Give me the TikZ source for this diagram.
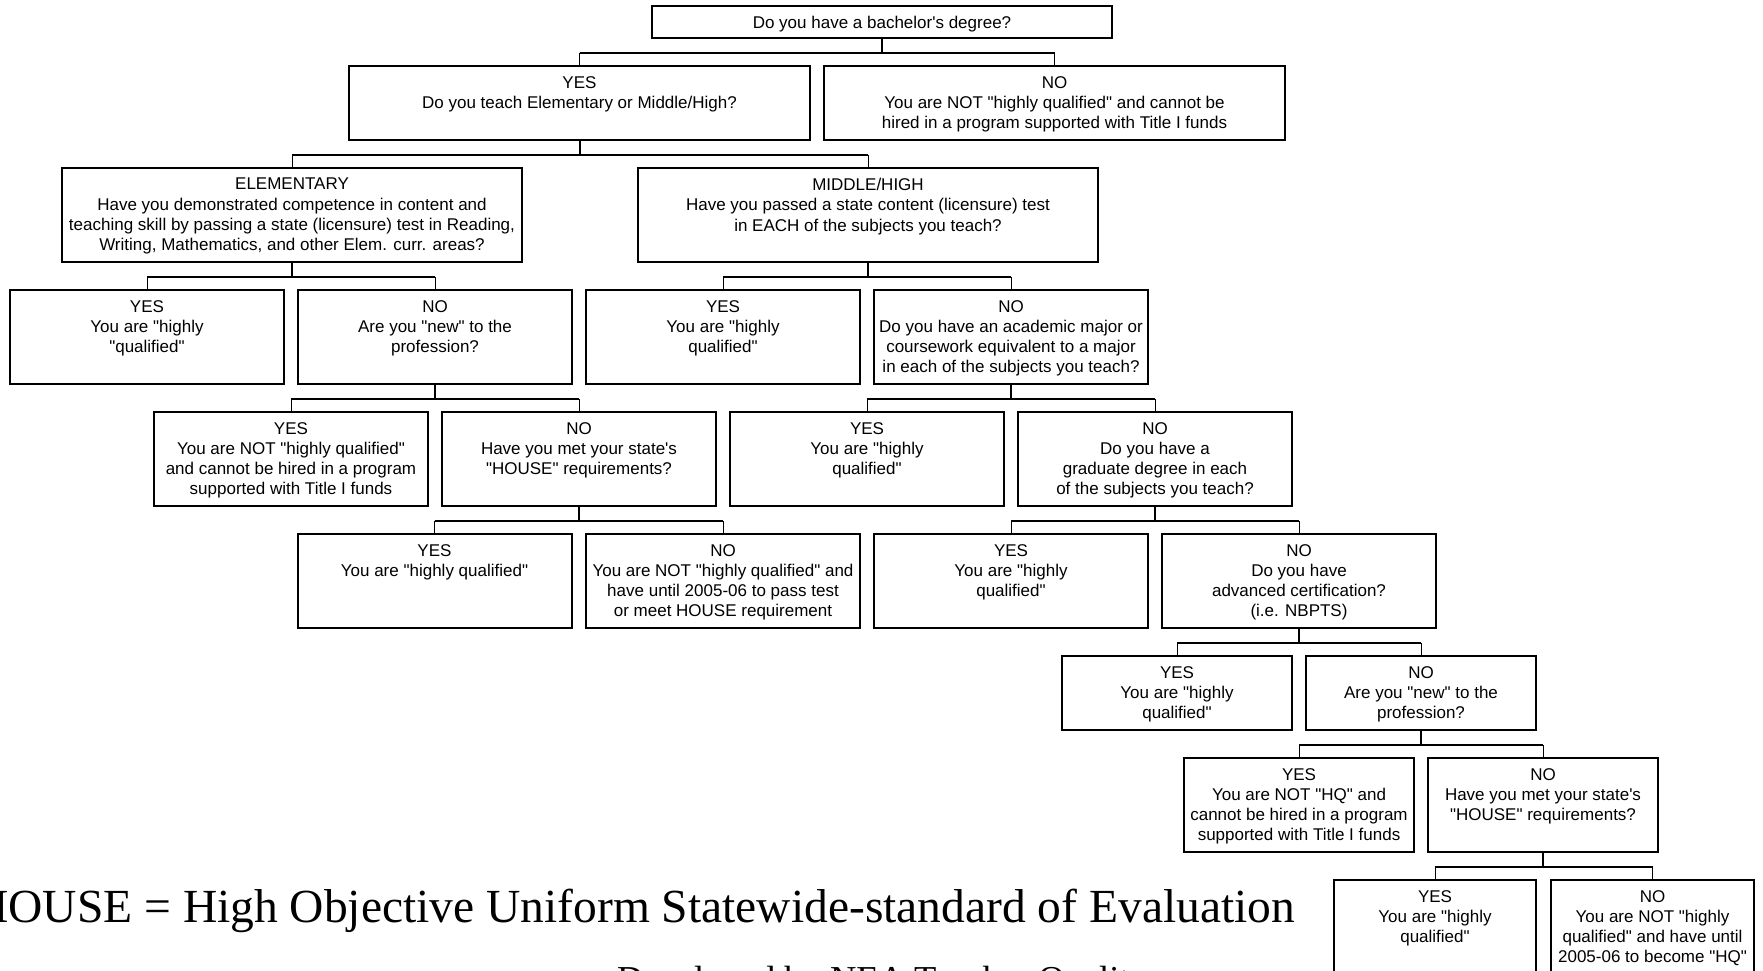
\documentclass[tikz,border=0pt]{standalone}
\usepackage{fontspec}
\setmainfont{Liberation Sans}[Ligatures=TeXOff]
\newfontfamily\notefont{Liberation Serif}
\usetikzlibrary{positioning}

\tikzset{
  qbox/.style={draw=black, line width=2pt, inner sep=0pt},
  wide/.style={qbox, minimum width=460pt},
  mid/.style={qbox, minimum width=274pt, minimum height=94pt},
  narrow/.style={qbox, minimum width=230pt},
  qtext/.style={anchor=north, align=center, inner sep=0pt, font=\fontsize{17}{20.3}\selectfont},
  trunk/.style={line width=2pt},
  twig/.style={line width=1pt},
}

\begin{document}
\begin{tikzpicture}[x=1pt,y=-1pt]
  \useasboundingbox (0,0) rectangle (1763,971);

  % boxes, row by row
  \node[wide, minimum height=32pt] (bach) at (882,22) {};
  \node[wide, minimum height=74pt, minimum width=461pt] (yes1) at (579.5,103) {};
  \node[wide, minimum height=74pt, minimum width=461pt] (no1) at (1054.5,103) {};
  \node[wide, minimum height=94pt] (elem) at (292,215) {};
  \node[wide, minimum height=94pt] (mh) at (868,215) {};
  \node[mid] (eyes) at (147,337) {};
  \node[mid] (eno) at (435,337) {};
  \node[mid] (mhyes) at (723,337) {};
  \node[mid] (mhno) at (1011,337) {};
  \node[mid] (newyes) at (291,459) {};
  \node[mid] (newno) at (579,459) {};
  \node[mid] (majyes) at (867,459) {};
  \node[mid] (majno) at (1155,459) {};
  \node[mid] (hyes) at (434.5,581) {};
  \node[mid] (hno) at (723,581) {};
  \node[mid] (gyes) at (1011,581) {};
  \node[mid] (gno) at (1299,581) {};
  \node[narrow, minimum height=74pt] (ayes) at (1177,693) {};
  \node[narrow, minimum height=74pt] (ano) at (1421,693) {};
  \node[narrow, minimum height=94pt] (nyes) at (1299,805) {};
  \node[narrow, minimum height=94pt] (nno) at (1543,805) {};
  \node[qbox, minimum width=202pt, minimum height=94pt] (fyes) at (1435,927) {};
  \node[qbox, minimum width=203pt, minimum height=94pt] (fno) at (1652.5,927) {};

  % texts
  \node[qtext, below=11pt of bach.north] (bacht) {Do you have a bachelor's degree?};
  \node[qtext, below=11pt of yes1.north] (yes1t) {YES\\Do you teach Elementary or Middle/High?};
  \node[qtext, below=11pt of no1.north] (no1t) {NO\\You are NOT "highly qualified" and cannot be\\hired in a program supported with Title I funds};
  \node[qtext, below=11pt of elem.north] (elemt) {ELEMENTARY\\Have you demonstrated competence in content and\\teaching skill by passing a state (licensure) test in Reading,\\Writing, Mathematics, and other Elem. curr. areas?};
  \node[qtext, below=11pt of mh.north] (mht) {MIDDLE/HIGH\\Have you passed a state content (licensure) test\\in EACH of the subjects you teach?};
  \node[qtext, below=11pt of eyes.north] (eyest) {YES\\You are "highly\\"qualified"};
  \node[qtext, below=11pt of eno.north] (enot) {NO\\Are you "new" to the\\profession?};
  \node[qtext, below=11pt of mhyes.north] (mhyest) {YES\\You are "highly\\qualified"};
  \node[qtext, below=11pt of mhno.north] (mhnot) {NO\\Do you have an academic major or\\coursework equivalent to a major\\in each of the subjects you teach?};
  \node[qtext, below=11pt of newyes.north] (newyest) {YES\\You are NOT "highly qualified"\\and cannot be hired in a program\\supported with Title I funds};
  \node[qtext, below=11pt of newno.north] (newnot) {NO\\Have you met your state's\\"HOUSE" requirements?};
  \node[qtext, below=11pt of majyes.north] (majyest) {YES\\You are "highly\\qualified"};
  \node[qtext, below=11pt of majno.north] (majnot) {NO\\Do you have a\\graduate degree in each\\of the subjects you teach?};
  \node[qtext, below=11pt of hyes.north] (hyest) {YES\\You are "highly qualified"};
  \node[qtext, below=11pt of hno.north] (hnot) {NO\\You are NOT "highly qualified" and\\have until 2005-06 to pass test\\or meet HOUSE requirement};
  \node[qtext, below=11pt of gyes.north] (gyest) {YES\\You are "highly\\qualified"};
  \node[qtext, below=11pt of gno.north] (gnot) {NO\\Do you have\\advanced certification?\\(i.e. NBPTS)};
  \node[qtext, below=11pt of ayes.north] (ayest) {YES\\You are "highly\\qualified"};
  \node[qtext, below=11pt of ano.north] (anot) {NO\\Are you "new" to the\\profession?};
  \node[qtext, below=11pt of nyes.north] (nyest) {YES\\You are NOT "HQ" and\\cannot be hired in a program\\supported with Title I funds};
  \node[qtext, below=11pt of nno.north] (nnot) {NO\\Have you met your state's\\"HOUSE" requirements?};
  \node[qtext, below=11pt of fyes.north] (fyest) {YES\\You are "highly\\qualified"};
  \node[qtext, below=11pt of fno.north] (fnot) {NO\\You are NOT "highly\\qualified" and have until\\2005-06 to become "HQ"};

  % connectors: parent / yes child / no child
  \foreach \p/\a/\b in {bach/yes1/no1, yes1/elem/mh, elem/eyes/eno, mh/mhyes/mhno,
      eno/newyes/newno, mhno/majyes/majno, newno/hyes/hno, majno/gyes/gno,
      gno/ayes/ano, ano/nyes/nno, nno/fyes/fno}{
    \draw[trunk] (\p.south) -- ++(0,14) coordinate (j);
    \draw[trunk] (\a.north |- j) -- (\b.north |- j);
    \draw[twig] (\a.north) -- (\a.north |- j);
    \draw[twig] (\b.north) -- (\b.north |- j);
  }

  % footnote
  \node[anchor=base west, inner sep=0pt, font=\notefont\fontsize{47.5}{50}\selectfont] (house) at (-26,922.5) {HOUSE = High Objective Uniform Statewide-standard of Evaluation};
  \node[anchor=base west, inner sep=0pt, font=\notefont\fontsize{36.5}{40}\selectfont] (nea) at (617,991) {Developed by NEA Teacher Quality};
\end{tikzpicture}
\end{document}
